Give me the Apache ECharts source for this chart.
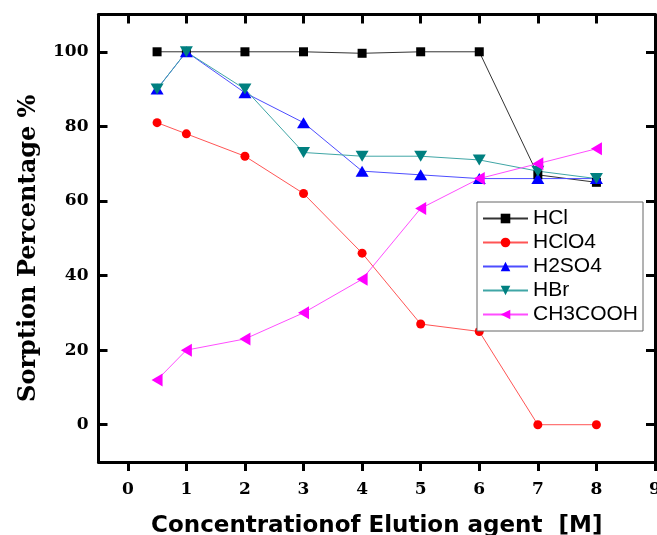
<!DOCTYPE html>
<html>
<head>
<meta charset="utf-8">
<script src="https://cdn.jsdelivr.net/npm/echarts@6/dist/echarts.min.js"></script>
<style>
html,body{margin:0;padding:0;background:#fff;}
#c{width:657px;height:535px;}
</style>
</head>
<body>
<div id="c"></div>
<script>
const xValues = [0.5, 1, 2, 3, 4, 5, 6, 7, 8];
const hcl     = [100, 100, 100, 100, 99.6, 100, 100, 67, 65];
const hclo4   = [81, 78, 72, 62, 46, 27, 25, 0, 0];
const h2so4   = [90, 100, 89, 81, 68, 67, 66, 66, 66];
const hbr     = [90, 100, 90, 73, 72, 72, 71, 68, 66];
const ch3cooh = [12, 20, 23, 30, 39, 58, 66, 70, 74];
const xTicks = [0, 1, 2, 3, 4, 5, 6, 7, 8, 9];
const yTicks = [0, 20, 40, 60, 80, 100];
const seriesNames = ['HCl', 'HClO4', 'H2SO4', 'HBr', 'CH3COOH'];

function pts(ys) { return xValues.map((x, i) => [x, ys[i]]); }

const chart = echarts.init(document.getElementById('c'), null, {renderer: 'canvas'});
const tickFont = {fontFamily: 'DejaVu Serif', fontWeight: 'bold', fontSize: 17, color: '#000'};
const axLine = {show: true, onZero: false, lineStyle: {color: '#000', width: 3}};

chart.setOption({
  animation: false,
  backgroundColor: '#fff',
  grid: {left: 98.5, right: 2, top: 14.5, bottom: 73, containLabel: false, outerBoundsMode: 'none'},
  legend: {
    orient: 'vertical', left: 477, top: 202,
    padding: [6, 5, 6, 5], itemGap: 3, itemWidth: 45, itemHeight: 12,
    borderColor: '#666', borderWidth: 1, backgroundColor: '#fff',
    textStyle: {fontFamily: 'Liberation Sans', fontSize: 21, color: '#000', lineHeight: 21},
    data: seriesNames
  },
  xAxis: [
    {type: 'value', position: 'bottom', min: -0.5, max: 9,
     name: 'Concentrationof Elution agent  [M]', nameLocation: 'middle', nameGap: 53,
     nameTextStyle: {fontFamily: 'DejaVu Sans', fontWeight: 'bold', fontSize: 23, color: '#000'},
     axisLine: axLine,
     axisTick: {show: true, inside: false, length: 9, lineStyle: {width: 3, color: '#000'}, customValues: xTicks},
     axisLabel: Object.assign({margin: 19, customValues: xTicks}, tickFont),
     splitLine: {show: false}},
    {type: 'value', position: 'top', min: -0.5, max: 9,
     axisLine: axLine,
     axisTick: {show: true, inside: true, length: 9, lineStyle: {width: 3, color: '#000'}, customValues: xTicks},
     axisLabel: {show: false},
     splitLine: {show: false}}
  ],
  yAxis: [
    {type: 'value', position: 'left', min: -10, max: 110,
     name: 'Sorption Percentage %', nameLocation: 'middle', nameGap: 58,
     nameTextStyle: {fontFamily: 'DejaVu Serif', fontWeight: 'bold', fontSize: 24, color: '#000', padding: [0, 20, 0, 0]},
     axisLine: axLine,
     axisTick: {show: true, inside: true, length: 9, lineStyle: {width: 3, color: '#000'}, customValues: yTicks},
     axisLabel: Object.assign({margin: 10, customValues: yTicks}, tickFont),
     splitLine: {show: false}},
    {type: 'value', position: 'right', min: -10, max: 110,
     axisLine: axLine,
     axisTick: {show: true, inside: true, length: 9, lineStyle: {width: 3, color: '#000'}, customValues: yTicks},
     axisLabel: {show: false},
     splitLine: {show: false}}
  ],
  series: [
    {name: 'HCl', type: 'line', data: pts(hcl), symbol: 'rect', symbolSize: 9,
     itemStyle: {color: '#000'}, lineStyle: {color: '#333', width: 1}},
    {name: 'HClO4', type: 'line', data: pts(hclo4), symbol: 'circle', symbolSize: 9,
     itemStyle: {color: '#ff0000'}, lineStyle: {color: '#ff5555', width: 1}},
    {name: 'H2SO4', type: 'line', data: pts(h2so4), symbol: 'triangle', symbolSize: [13, 11],
     itemStyle: {color: '#0000ff'}, lineStyle: {color: '#4d4dff', width: 1}},
    {name: 'HBr', type: 'line', data: pts(hbr), symbol: 'triangle', symbolSize: [13, 11], symbolRotate: 180,
     itemStyle: {color: '#008080'}, lineStyle: {color: '#40a6a6', width: 1}},
    {name: 'CH3COOH', type: 'line', data: pts(ch3cooh), symbol: 'triangle', symbolSize: [13, 11], symbolRotate: 90,
     itemStyle: {color: '#ff00ff'}, lineStyle: {color: '#ff4dff', width: 1}}
  ]
});
</script>
</body>
</html>
